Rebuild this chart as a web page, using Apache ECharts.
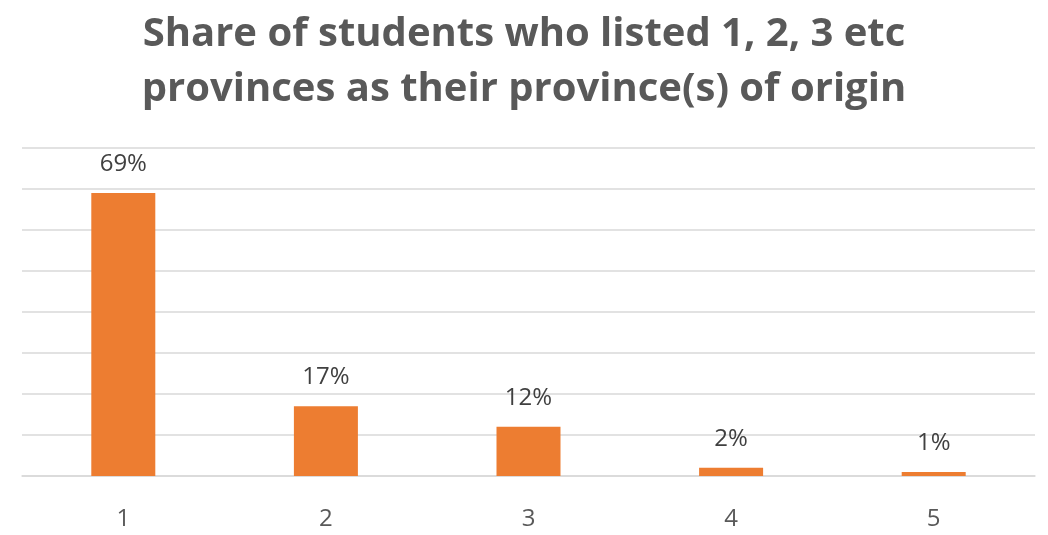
<!DOCTYPE html>
<html>
<head>
<meta charset="utf-8">
<script src="https://cdn.jsdelivr.net/npm/echarts@6/dist/echarts.min.js"></script>
<style>
  html, body { margin: 0; padding: 0; background: #fff; }
  #chart { width: 1048px; height: 535px; }
</style>
</head>
<body>
<div id="chart"></div>
<script>
// number of provinces listed
var categories = ['1', '2', '3', '4', '5']
// share of students, %
var shares = [69, 17, 12, 2, 1]
var yTicks = { min: 0, max: 80, interval: 10 }

var chart = echarts.init(document.getElementById('chart'))
chart.setOption({
  animation: false,
  title: {
    text: 'Share of students who listed 1, 2, 3 etc\nprovinces as their province(s) of origin',
    left: 'center',
    top: 2,
    textStyle: {
      fontFamily: 'Open Sans',
      fontWeight: 'bold',
      fontSize: 40,
      lineHeight: 55,
      color: '#595959'
    }
  },
  grid: {
    left: 22,
    right: 13,
    top: 148,
    bottom: 59
  },
  xAxis: {
    type: 'category',
    data: categories,
    axisLine: { lineStyle: { color: '#d9d9d9', width: 1.5 } },
    axisTick: { show: false },
    axisLabel: {
      margin: 31,
      fontFamily: 'Open Sans',
      fontSize: 24,
      color: '#595959'
    }
  },
  yAxis: {
    type: 'value',
    min: yTicks.min,
    max: yTicks.max,
    interval: yTicks.interval,
    axisLabel: { show: false },
    axisLine: { show: false },
    axisTick: { show: false },
    splitLine: { lineStyle: { color: '#d9d9d9', width: 1.5 } }
  },
  series: [{
    type: 'bar',
    data: shares,
    barWidth: 64,
    itemStyle: { color: '#ed7d31' },
    label: {
      show: true,
      position: 'top',
      distance: 17,
      formatter: '{c}%',
      fontFamily: 'Open Sans',
      fontSize: 24,
      color: '#404040'
    }
  }]
})
</script>
</body>
</html>
